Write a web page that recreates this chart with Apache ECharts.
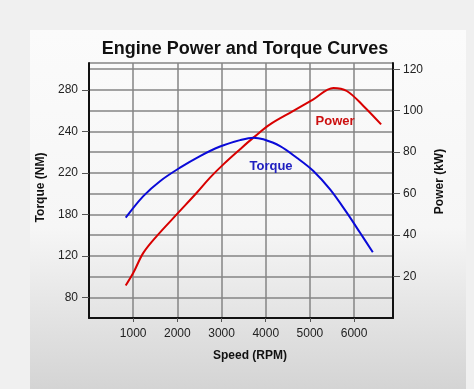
<!DOCTYPE html>
<html>
<head>
<meta charset="utf-8">
<script src="https://cdn.jsdelivr.net/npm/echarts@6/dist/echarts.min.js"></script>
<style>html,body{margin:0;padding:0;background:#efefef;}#c{width:474px;height:389px;}</style>
</head>
<body>
<div id="c"></div>
<script>
// Tick labels
const speedTicks = [1000, 2000, 3000, 4000, 5000, 6000];
const powerTicks = [20, 40, 60, 80, 100, 120];
const torqueTicks = [80, 120, 180, 220, 240, 280];      // printed torque labels (non-linear axis)
const torqueTickLevels = [10, 30, 50, 70, 90, 110];     // where each torque label sits on the shared grid

// Power series (kW) vs speed (RPM)
const powerRpm = [831, 1003, 1229, 1533, 2022, 2438, 2739, 3041, 3419, 3720, 4098, 4625, 5078, 5531, 5834, 6210, 6611];
const powerKw  = [15.7, 21.8, 31.4, 39.5, 50.8, 60.4, 67.7, 74.1, 81.4, 87.0, 93.4, 99.9, 105.5, 111.0, 109.5, 102.3, 93.4];

// Torque series (NM) vs speed (RPM)
const torqueRpm = [831, 1229, 1607, 2060, 2513, 2966, 3419, 3720, 3946, 4324, 4702, 5078, 5456, 5834, 6135, 6423];
const torqueNm  = [175.2, 197.6, 212, 222.5, 228.1, 232.7, 235.8, 237, 236.2, 232.9, 227.3, 220.9, 204, 181.6, 153.3, 125.1];

// Piecewise-linear torque scale, following the printed axis labels
function torqueScale(nm) {
  for (let i = 0; i < torqueTicks.length - 1; i++) {
    const a = torqueTicks[i], b = torqueTicks[i + 1];
    if (nm <= b || i === torqueTicks.length - 2) {
      const la = torqueTickLevels[i], lb = torqueTickLevels[i + 1];
      return la + (nm - a) / (b - a) * (lb - la);
    }
  }
}

const chart = echarts.init(document.getElementById('c'), null, {renderer: 'canvas'});
const font = 'Liberation Sans, Arial, sans-serif';
const gridColor = '#848484';

chart.setOption({
  backgroundColor: '#f0f0f0',
  animation: false,
  graphic: [{
    type: 'rect', z: -10, silent: true,
    shape: {x: 30, y: 30, width: 436, height: 359},
    style: {fill: new echarts.graphic.LinearGradient(0, 0, 0, 1, [
      {offset: 0, color: '#fbfbfb'}, {offset: 0.55, color: '#f6f6f6'}, {offset: 1, color: '#d4d4d4'}
    ])}
  }],
  title: {
    text: 'Engine Power and Torque Curves',
    left: 240, top: 35, textAlign: 'center',
    textStyle: {fontFamily: font, fontSize: 18, fontWeight: 'bold', color: '#111'}
  },
  grid: {left: 89, right: 81, top: 63, bottom: 71, containLabel: false},
  xAxis: {
    type: 'value', min: 0, max: 6880, interval: 1000,
    name: 'Speed (RPM)', nameLocation: 'middle', nameGap: 32,
    nameTextStyle: {fontFamily: font, fontSize: 12, fontWeight: 'bold', color: '#111', padding: [0, 0, 0, 18]},
    axisLine: {show: true, onZero: false, lineStyle: {color: '#111', width: 2}},
    axisTick: {show: true, length: 4, customValues: speedTicks, lineStyle: {color: '#555', width: 1}},
    axisLabel: {margin: 10, fontFamily: font, fontSize: 12, color: '#222',
      customValues: speedTicks, formatter: v => String(v)},
    splitLine: {show: true, lineStyle: {color: gridColor, width: 1.5}}
  },
  yAxis: [
    {
      type: 'value', position: 'left', min: 0, max: 123, interval: 10,
      name: 'Torque (NM)', nameLocation: 'middle', nameGap: 41, nameRotate: 90,
      nameTextStyle: {fontFamily: font, fontSize: 12, fontWeight: 'bold', color: '#111', padding: [0, 0, 0, 6]},
      axisLine: {show: true, lineStyle: {color: '#111', width: 2}},
      axisTick: {show: true, length: 7, customValues: torqueTickLevels, lineStyle: {color: '#555', width: 1}},
      axisLabel: {margin: 11, fontFamily: font, fontSize: 12, color: '#222',
        customValues: torqueTickLevels,
        formatter: v => { const i = torqueTickLevels.indexOf(v); return i >= 0 ? String(torqueTicks[i]) : ''; }},
      splitLine: {show: false}
    },
    {
      type: 'value', position: 'right', min: 0, max: 123, interval: 20,
      name: 'Power (kW)', nameLocation: 'middle', nameGap: 35, nameRotate: 90,
      nameTextStyle: {fontFamily: font, fontSize: 12, fontWeight: 'bold', color: '#111', padding: [0, 0, 0, 18]},
      axisLine: {show: true, lineStyle: {color: '#111', width: 2}},
      axisTick: {show: true, length: 7, customValues: powerTicks, lineStyle: {color: '#555', width: 1}},
      axisLabel: {margin: 10, fontFamily: font, fontSize: 12, color: '#222', customValues: powerTicks},
      splitLine: {show: false}
    },
    {
      type: 'value', position: 'right', min: 0, max: 123, interval: 10,
      axisLine: {show: false}, axisTick: {show: false}, axisLabel: {show: false},
      splitLine: {show: true, lineStyle: {color: gridColor, width: 1.5}}
    }
  ],
  series: [
    {
      name: 'Power', type: 'line', yAxisIndex: 1, smooth: 0.35, symbol: 'none',
      lineStyle: {color: '#d80000', width: 2},
      data: powerRpm.map((r, i) => [r, powerKw[i]]),
      markPoint: {
        symbol: 'circle', symbolSize: 0,
        label: {show: true, position: 'inside', formatter: 'Power', fontFamily: font, fontSize: 13, fontWeight: 'bold', color: '#cc1010'},
        data: [{coord: [5569, 94.9]}]
      }
    },
    {
      name: 'Torque', type: 'line', yAxisIndex: 0, smooth: 0.35, symbol: 'none',
      lineStyle: {color: '#0a0ad8', width: 2},
      data: torqueRpm.map((r, i) => [r, torqueScale(torqueNm[i])]),
      markPoint: {
        symbol: 'circle', symbolSize: 0,
        label: {show: true, position: 'inside', formatter: 'Torque', fontFamily: font, fontSize: 13, fontWeight: 'bold', color: '#2020c0'},
        data: [{coord: [4120, 73.1]}]
      }
    }
  ]
});
</script>
</body>
</html>
